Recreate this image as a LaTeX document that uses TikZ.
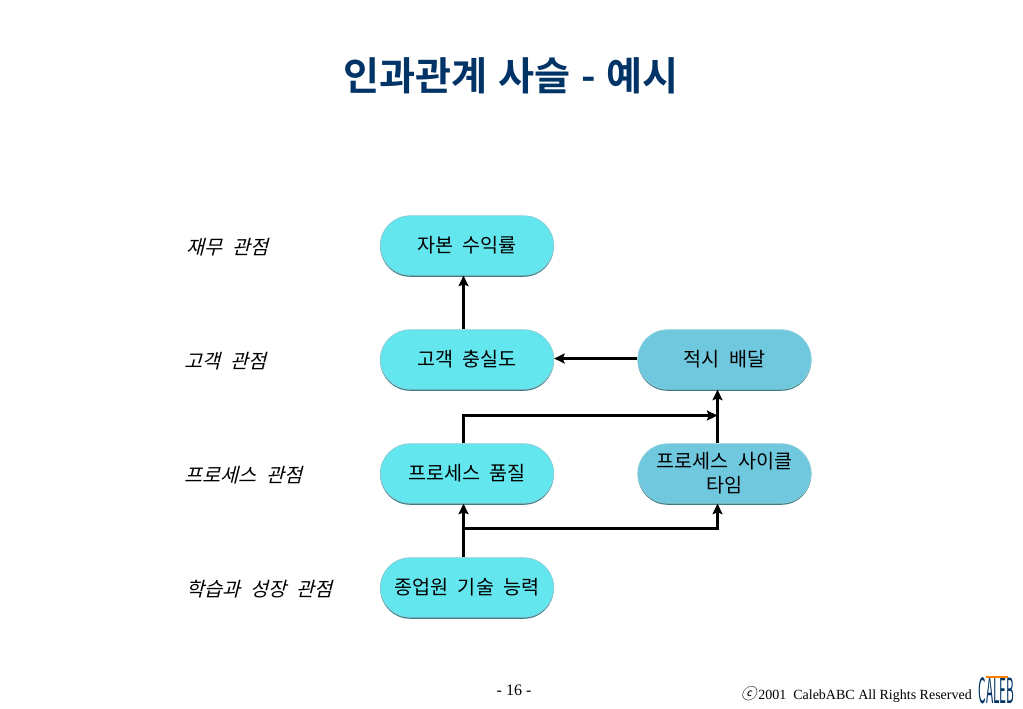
\documentclass[tikz,border=0pt]{standalone}
\usepackage{fontspec}
\usetikzlibrary{shapes.misc,shadows,arrows.meta}
\newfontfamily\krfont[WordSpace=2.2]{Noto Sans CJK KR}
\newfontfamily\krslant[WordSpace=2.2,FakeSlant=0.25]{Noto Sans CJK KR}
\newfontfamily\krtitle[WordSpace=1.2]{Noto Sans CJK KR Bold}
\newfontfamily\footfont{Liberation Serif}
\definecolor{titleblue}{RGB}{0,51,102}
\definecolor{boxcyan}{RGB}{99,230,238}
\definecolor{boxblue}{RGB}{112,200,222}
\definecolor{boxedge}{RGB}{135,205,215}
\definecolor{boxshade}{RGB}{62,125,135}
\tikzset{
  pill/.style={rounded rectangle,minimum width=130pt,minimum height=44.5pt,inner sep=0pt,
    align=center,font=\krfont\fontsize{14.7pt}{18pt}\selectfont,draw=boxedge,line width=0.6pt,
    drop shadow={shadow xshift=0pt,shadow yshift=-1.2pt,fill=boxshade,opacity=1}},
  cyanpill/.style={pill,fill=boxcyan},
  bluepill/.style={pill,fill=boxblue},
  persp/.style={anchor=west,font=\krslant\fontsize{14.7pt}{16pt}\selectfont},
  link/.style={line width=2.25pt,-{Stealth[length=8pt,width=7.5pt,inset=1.5pt]}}
}
\begin{document}
\begin{tikzpicture}[x=0.75pt,y=-0.75pt]
    \useasboundingbox (0,0) rectangle (1023,708);
    % title
    \node[text=titleblue,font=\krtitle\fontsize{29.4pt}{32pt}\selectfont] (title) at (511,76) {인과관계 사슬 - 예시};

    % perspective labels
    \node[persp] (finance) at (182,247) {재무 관점};
    \node[persp] (customer) at (180,361) {고객 관점};
    \node[persp] (process) at (180,475) {프로세스 관점};
    \node[persp] (learning) at (182,589) {학습과 성장 관점};

    % boxes
    \node[cyanpill] (roce) at (467,245.5) {자본 수익률};
    \node[cyanpill] (loyalty) at (467,359.5) {고객 충실도};
    \node[cyanpill] (quality) at (467,473.5) {프로세스 품질};
    \node[cyanpill] (skill) at (467,587.5) {종업원 기술 능력};
    \node[bluepill] (delivery) at (724.5,359.5) {적시 배달};
    \node[bluepill] (cycle) at (724.5,473.5) {프로세스 사이클\\타임};

    % connectors
    \coordinate (skilltop) at ([xshift=-2.625pt]skill.north);
    \coordinate (qualitytop) at ([xshift=-2.625pt]quality.north);
    \coordinate (cycletop) at ([xshift=-5.25pt]cycle.north);
    \coordinate (split) at (463.5,528.5);
    \coordinate (upperbend) at (463.5,415.5);
    \coordinate (uppermeet) at (717.5,415.5);
    \coordinate (lowerbend) at (717.5,528.5);
    \draw[link] ([xshift=-2.625pt]loyalty.north) -- ([xshift=-2.625pt]roce.south);
    \draw[link] ([yshift=0.75pt]delivery.west) -- ([yshift=0.75pt]loyalty.east);
    \draw[link] (cycletop) -- ([xshift=-5.25pt]delivery.south);
    \draw[link] (qualitytop) -- (upperbend) -- (uppermeet);
    \draw[link] (skilltop) -- ([xshift=-2.625pt]quality.south);
    \draw[link] (split) -- (lowerbend) -- ([xshift=-5.25pt]cycle.south);

    % footer
    \node[font=\footfont\fontsize{12pt}{14pt}\selectfont] (page) at (514,690) {- 16 -};
    \node[anchor=east,font=\footfont\fontsize{10.5pt}{12pt}\selectfont] (rights) at (976.5,695) {{\krslant\fontsize{11.5pt}{12pt}\selectfont ⓒ}\kern1.5pt 2001\ \ CalebABC All Rights Reserved};
    \node[text=titleblue,font=\krfont\fontsize{26pt}{26pt}\selectfont,xscale=0.34,inner sep=0pt] (logo) at (996.5,691) {CALEB};
    \draw[orange,line width=1pt] (986,677) -- (1008,677);
\end{tikzpicture}
\end{document}
